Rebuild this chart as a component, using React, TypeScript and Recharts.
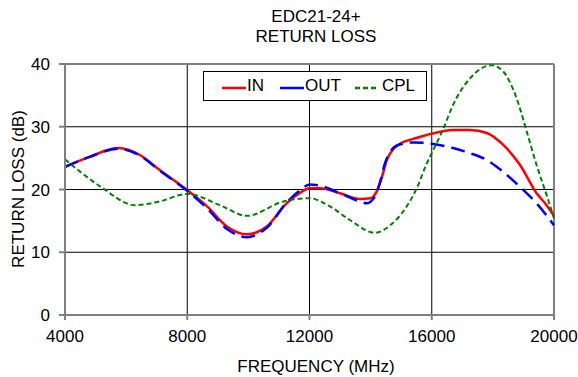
import { LineChart, Line, XAxis, YAxis, CartesianGrid } from 'recharts';

// frequency (MHz) / return loss (dB)
const IN_FREQ = [4000, 4800, 5750, 6450, 7100, 8000, 8650, 9300, 9950, 10600, 11250, 11700, 12000, 12350, 13000, 13650, 14000, 14200, 14360, 14530, 14750, 14960, 15200, 15500, 16000, 16700, 17250, 17800, 18340, 18890, 19430, 19760, 20000];
const IN_LOSS = [23.6, 25.2, 26.6, 25.5, 23.1, 19.9, 17.3, 14.1, 12.85, 14.1, 17.8, 19.5, 20.2, 20.2, 19.4, 18.5, 18.6, 19.7, 21.8, 24.7, 26.5, 27.3, 27.8, 28.2, 28.9, 29.5, 29.5, 29.0, 27.1, 23.9, 19.4, 17.5, 15.8];

const OUT_FREQ = [4000, 4800, 5750, 6450, 7100, 8000, 8650, 9300, 9950, 10600, 11250, 11700, 12000, 12350, 13000, 13650, 13870, 14140, 14310, 14470, 14640, 14900, 15400, 16000, 16700, 17250, 17800, 18340, 18890, 19430, 20000];
const OUT_LOSS = [23.6, 25.2, 26.5, 25.4, 23.0, 19.8, 17.0, 13.7, 12.4, 13.9, 17.9, 19.9, 20.8, 20.6, 19.4, 18.1, 17.8, 18.9, 21.2, 24.2, 26.0, 27.1, 27.5, 27.3, 26.6, 25.8, 24.7, 22.8, 20.4, 17.8, 14.3];

const CPL_FREQ = [4000, 5150, 6300, 7100, 8000, 9070, 9950, 11150, 12000, 12670, 13330, 14140, 14640, 15180, 15510, 15840, 16000, 16380, 16700, 17250, 17960, 18340, 18780, 19110, 19430, 19760, 20000];
const CPL_LOSS = [24.8, 20.5, 17.5, 18.1, 19.3, 17.5, 15.8, 18.1, 18.6, 17.3, 15.1, 13.1, 14.3, 17.3, 20.2, 24.2, 25.8, 29.7, 33.5, 37.7, 39.8, 38.8, 34.5, 29.2, 23.9, 19.1, 15.4];

const X_TICKS = [4000, 8000, 12000, 16000, 20000];
const Y_TICKS = [0, 10, 20, 30, 40];

const toRows = (f: number[], v: number[]) => f.map((freq, i) => ({ freq, loss: v[i] }));
const inData = toRows(IN_FREQ, IN_LOSS);
const outData = toRows(OUT_FREQ, OUT_LOSS);
const cplData = toRows(CPL_FREQ, CPL_LOSS);

const FONT = '"Liberation Sans", Arial, sans-serif';
const tick = { fill: '#000', fontSize: 17, fontFamily: FONT };

const legendItems = [
  { label: 'IN', color: '#ff0000', dash: undefined, x: 18, tx: 43 },
  { label: 'OUT', color: '#0000ff', dash: undefined, x: 76, tx: 101 },
  { label: 'CPL', color: '#008000', dash: '5 3', x: 151, tx: 178 },
];

export default function App() {
  return (
    <div style={{ position: 'absolute', left: 0, top: 0, width: 578, height: 377, background: '#fff', fontFamily: FONT }}>
      <div style={{ position: 'absolute', left: 216, top: 7, width: 200, textAlign: 'center', fontSize: 17, lineHeight: '20px' }}>
        EDC21-24+<br />RETURN LOSS
      </div>
      <LineChart width={578} height={377} margin={{ top: 64, right: 24, bottom: 0, left: 0 }}>
        <CartesianGrid stroke="#000" strokeWidth={1} horizontalValues={[10, 20, 30]} verticalValues={[8000, 12000, 16000]} />
        <CartesianGrid stroke="#808080" strokeWidth={2} horizontalValues={[40]} verticalValues={[20000]} />
        <XAxis
          dataKey="freq"
          type="number"
          domain={[4000, 20000]}
          ticks={X_TICKS}
          height={62}
          tick={tick}
          tickSize={5}
          tickMargin={10}
          stroke="#808080"
          strokeWidth={2}
          allowDuplicatedCategory={false}
        />
        <YAxis
          type="number"
          domain={[0, 40]}
          ticks={Y_TICKS}
          width={65}
          tick={tick}
          tickSize={6}
          tickMargin={9}
          stroke="#808080"
          strokeWidth={2}
        />
        <Line data={inData} dataKey="loss" type="monotone" stroke="#ff0000" strokeWidth={2.5} dot={false} isAnimationActive={false} />
        <Line data={outData} dataKey="loss" type="monotone" stroke="#0000ff" strokeWidth={2.5} strokeDasharray="14 7" dot={false} isAnimationActive={false} />
        <Line data={cplData} dataKey="loss" type="monotone" stroke="#008000" strokeWidth={2} strokeDasharray="5 3" dot={false} isAnimationActive={false} />
      </LineChart>
      <div style={{ position: 'absolute', left: 203, top: 71, width: 222, height: 28, border: '1px solid #000', background: '#fff' }}>
        {legendItems.map((it) => (
          <div key={it.label}>
            <svg style={{ position: 'absolute', left: it.x, top: 14 }} width={24} height={4}>
              <line x1={0} y1={2} x2={24} y2={2} stroke={it.color} strokeWidth={2.5} strokeDasharray={it.dash} />
            </svg>
            <span style={{ position: 'absolute', left: it.tx, top: 4, fontSize: 17, lineHeight: '20px' }}>{it.label}</span>
          </div>
        ))}
      </div>
      <div style={{ position: 'absolute', left: 216, top: 357, width: 200, textAlign: 'center', fontSize: 17, lineHeight: '20px' }}>
        FREQUENCY (MHz)
      </div>
      <div style={{ position: 'absolute', left: -81, top: 179, width: 200, height: 20, textAlign: 'center', fontSize: 17, lineHeight: '20px', transform: 'rotate(-90deg)' }}>
        RETURN LOSS (dB)
      </div>
    </div>
  );
}
